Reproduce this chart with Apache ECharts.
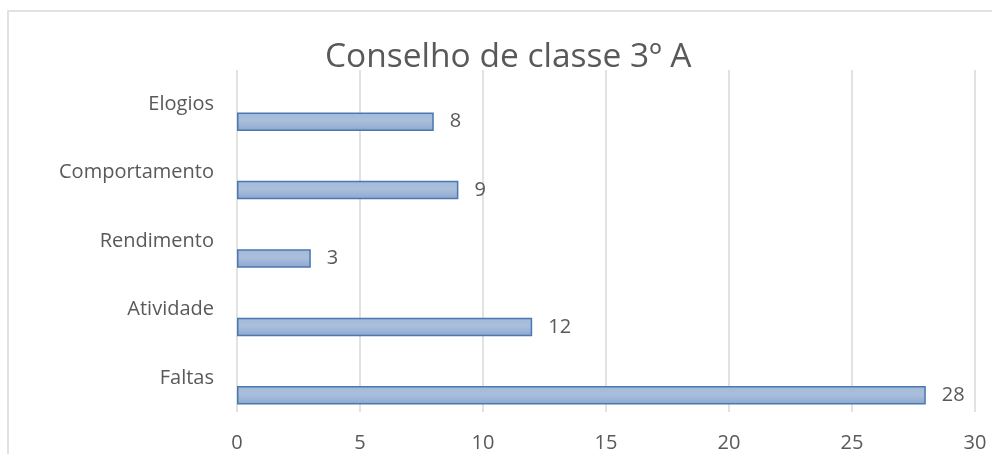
<!DOCTYPE html>
<html>
<head>
<meta charset="utf-8">
<script src="https://cdn.jsdelivr.net/npm/echarts@6/dist/echarts.min.js"></script>
<style>
  html, body { margin: 0; padding: 0; background: #fff; }
  #main { width: 992px; height: 454px; }
</style>
</head>
<body>
<div id="main"></div>
<script>
// categories from bottom to top
const categories = ['Faltas', 'Atividade', 'Rendimento', 'Comportamento', 'Elogios'];
const values = [28, 12, 3, 9, 8];
// empty series, Excel kept a second column with no data
const emptyValues = ['-', '-', '-', '-', '-'];
const xTicks = [0, 5, 10, 15, 20, 25, 30];

const chart = echarts.init(document.getElementById('main'));
const fontFamily = '"Open Sans", "Noto Sans", sans-serif';
const grey = '#595959';

const option = {
    animation: false,
    textStyle: { fontFamily: fontFamily },
    title: {
        text: 'Conselho de classe 3º A',
        left: 320,
        top: 35,
        textStyle: { fontSize: 33.5, fontWeight: 'normal', color: grey, fontFamily: fontFamily }
    },
    // outer frame of the chart area
    graphic: [{
        type: 'rect',
        shape: { x: 8, y: 11, width: 1100, height: 600 },
        style: { fill: 'none', stroke: '#d9d9d9', lineWidth: 1.5 },
        silent: true
    }],
    grid: {
        left: 237,
        right: 17,
        top: 70,
        bottom: 42
    },
    xAxis: {
        type: 'value',
        min: xTicks[0],
        max: xTicks[xTicks.length - 1],
        interval: 5,
        axisLine: { show: false },
        axisTick: { show: false },
        axisLabel: { color: grey, fontSize: 20, margin: 21, fontFamily: fontFamily },
        splitLine: { show: true, lineStyle: { color: '#d9d9d9', width: 1.5 } }
    },
    yAxis: {
        type: 'category',
        data: categories,
        axisLine: { show: false },
        axisTick: { show: false },
        axisLabel: { color: grey, fontSize: 20, margin: 23, fontFamily: fontFamily },
        splitLine: { show: false }
    },
    series: [
        {
            name: 'vazio',
            type: 'bar',
            data: emptyValues,
            barWidth: 18.5,
            barGap: '89%'
        },
        {
            name: 'Conselho',
            type: 'bar',
            data: values,
            barWidth: 18.5,
            barGap: '89%',
            itemStyle: {
                color: new echarts.graphic.LinearGradient(0, 0, 0, 1, [
                    { offset: 0, color: '#a3b9d8' },
                    { offset: 0.45, color: '#aabfdc' },
                    { offset: 1, color: '#8ca7cd' }
                ]),
                borderColor: '#4a78b0',
                borderWidth: 1.5
            },
            label: {
                show: true,
                position: 'right',
                distance: 16,
                color: grey,
                fontSize: 20,
                fontFamily: fontFamily
            }
        }
    ]
};

chart.setOption(option);
</script>
</body>
</html>
